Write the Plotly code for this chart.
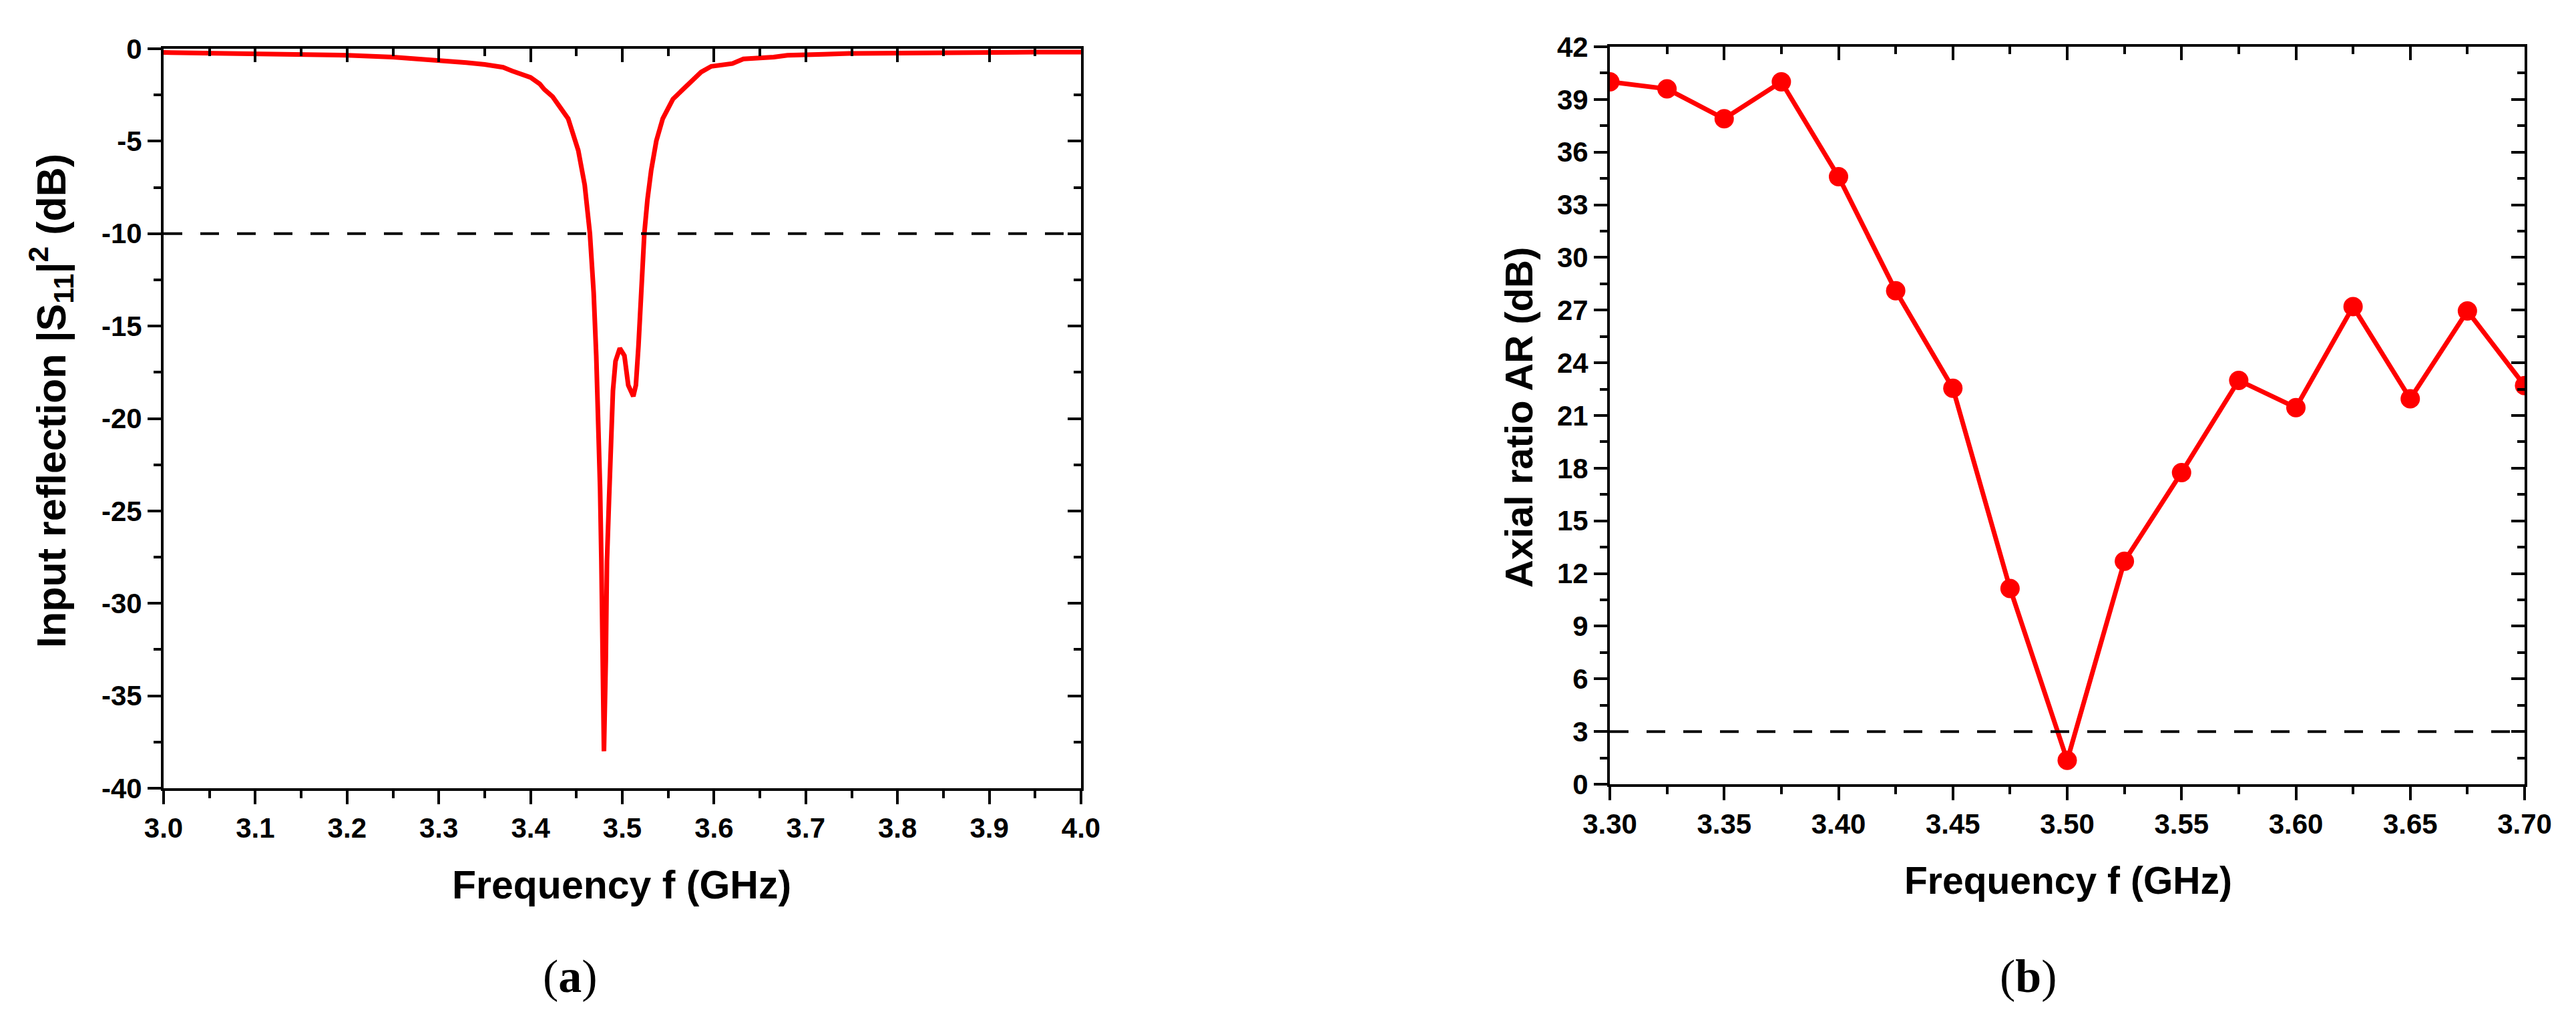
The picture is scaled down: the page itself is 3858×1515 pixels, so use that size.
import plotly.graph_objects as go

# ---------------- data ----------------
S11_FREQ = [3.000, 3.100, 3.200, 3.250, 3.300, 3.330, 3.350, 3.370, 3.380, 3.390,
            3.400, 3.410, 3.415, 3.424, 3.441, 3.452, 3.459, 3.4647, 3.4688, 3.4716,
            3.4744, 3.4758, 3.4772, 3.4786, 3.480, 3.482, 3.4833, 3.4856, 3.4878, 3.4898,
            3.4926, 3.4973, 3.5023, 3.5065, 3.512, 3.5148, 3.5176, 3.5204, 3.524, 3.5274,
            3.5315, 3.5371, 3.5441, 3.5552, 3.5691, 3.5859, 3.597, 3.609, 3.620, 3.632,
            3.650, 3.665, 3.680, 3.700, 3.720, 3.750, 3.800, 3.850, 3.900, 3.950, 4.000]
S11_DB = [-0.20, -0.25, -0.35, -0.45, -0.60, -0.75, -0.85, -1.00, -1.20, -1.40,
          -1.55, -1.90, -2.20, -2.59, -3.78, -5.50, -7.36, -10.0, -13.2, -16.6,
          -20.6, -23.8, -27.7, -33.1, -38.0, -33.1, -27.7, -24.3, -20.9, -18.5,
          -16.9, -16.2, -16.6, -18.2, -18.8, -18.2, -16.1, -13.2, -10.0, -8.16,
          -6.57, -4.98, -3.78, -2.72, -2.06, -1.26, -0.95, -0.85, -0.80, -0.55,
          -0.50, -0.45, -0.35, -0.30, -0.30, -0.25, -0.22, -0.20, -0.20, -0.18, -0.18]
S11_THRESHOLD = -10

S11_XTICKS = [3.0, 3.1, 3.2, 3.3, 3.4, 3.5, 3.6, 3.7, 3.8, 3.9, 4.0]
S11_XTICKTEXT = ["3.0", "3.1", "3.2", "3.3", "3.4", "3.5", "3.6", "3.7", "3.8", "3.9", "4.0"]
S11_XMINOR = [3.05, 3.15, 3.25, 3.35, 3.45, 3.55, 3.65, 3.75, 3.85, 3.95]
S11_YTICKS = [0, -5, -10, -15, -20, -25, -30, -35, -40]
S11_YTICKTEXT = ["0", "-5", "-10", "-15", "-20", "-25", "-30", "-35", "-40"]
S11_YMINOR = [-2.5, -7.5, -12.5, -17.5, -22.5, -27.5, -32.5, -37.5]

AR_FREQ = [3.300, 3.325, 3.350, 3.375, 3.400, 3.425, 3.450, 3.475, 3.500,
           3.525, 3.550, 3.575, 3.600, 3.625, 3.650, 3.675, 3.700]
AR_DB = [40.0, 39.6, 37.9, 40.0, 34.6, 28.1, 22.55, 11.15, 1.36,
         12.7, 17.75, 23.0, 21.45, 27.2, 21.95, 26.95, 22.7]
AR_THRESHOLD = 3

AR_XTICKS = [3.30, 3.35, 3.40, 3.45, 3.50, 3.55, 3.60, 3.65, 3.70]
AR_XTICKTEXT = ["3.30", "3.35", "3.40", "3.45", "3.50", "3.55", "3.60", "3.65", "3.70"]
AR_XMINOR = [3.325, 3.375, 3.425, 3.475, 3.525, 3.575, 3.625, 3.675]
AR_YTICKS = [0, 3, 6, 9, 12, 15, 18, 21, 24, 27, 30, 33, 36, 39, 42]
AR_YTICKTEXT = [str(v) for v in AR_YTICKS]
AR_YMINOR = [1.5, 4.5, 7.5, 10.5, 13.5, 16.5, 19.5, 22.5, 25.5, 28.5, 31.5, 34.5, 37.5, 40.5]

# ---------------- styling ----------------
W, H = 3858, 1515
FONT = "Liberation Sans, Arial, sans-serif"
RED = "#ff0000"
TICKFONT = dict(family=FONT, size=42, color="black", weight="bold")

L_X = [237 / W, 1611 / W]
L_Y = [(H - 1172) / H, (H - 65) / H]
R_X = [2403 / W, 3773 / W]
R_Y = [(H - 1166) / H, (H - 62) / H]

fig = go.Figure()

# left: S11 curve
fig.add_trace(go.Scatter(x=S11_FREQ, y=S11_DB, mode="lines",
                         line=dict(color=RED, width=7), xaxis="x", yaxis="y",
                         showlegend=False))
# left threshold (on overlay axes)
fig.add_trace(go.Scatter(x=[S11_XTICKS[0], S11_XTICKS[-1]], y=[S11_THRESHOLD] * 2,
                         mode="lines", line=dict(color="black", width=4, dash="28px,27px"),
                         xaxis="x3", yaxis="y3", showlegend=False))
# right: AR
fig.add_trace(go.Scatter(x=AR_FREQ, y=AR_DB, mode="lines+markers",
                         line=dict(color=RED, width=7),
                         marker=dict(color=RED, size=29, line=dict(width=0)),
                         xaxis="x2", yaxis="y2", showlegend=False))
fig.add_trace(go.Scatter(x=[AR_XTICKS[0], AR_XTICKS[-1]], y=[AR_THRESHOLD] * 2,
                         mode="lines", line=dict(color="black", width=4, dash="28px,27px"),
                         xaxis="x4", yaxis="y4", showlegend=False))


def main_axis(domain, anchor, rng, tv, tt, mv):
    return dict(domain=domain, anchor=anchor, range=rng, tickmode="array",
                tickvals=tv, ticktext=tt, ticks="outside", ticklen=20, tickwidth=4,
                tickcolor="black", showline=True, linewidth=4, linecolor="black",
                showgrid=False, zeroline=False, tickfont=TICKFONT, automargin=False,
                minor=dict(tickmode="array", tickvals=mv, ticks="outside",
                           ticklen=11, tickwidth=4, tickcolor="black", showgrid=False))


def mirror_axis(overlay, anchor, side, rng, tv, mv):
    return dict(overlaying=overlay, anchor=anchor, side=side, range=rng,
                tickmode="array", tickvals=tv, ticks="inside", ticklen=20, tickwidth=4,
                tickcolor="black", showline=True, linewidth=4, linecolor="black",
                showgrid=False, zeroline=False, showticklabels=False, automargin=False,
                minor=dict(tickmode="array", tickvals=mv, ticks="inside",
                           ticklen=11, tickwidth=4, tickcolor="black", showgrid=False))


s11_xr = [S11_XTICKS[0], S11_XTICKS[-1]]
s11_yr = [S11_YTICKS[-1], S11_YTICKS[0]]
ar_xr = [AR_XTICKS[0], AR_XTICKS[-1]]
ar_yr = [AR_YTICKS[0], AR_YTICKS[-1]]

fig.update_layout(
    template="none",
    width=W, height=H, autosize=False, margin=dict(l=0, r=0, t=0, b=0, pad=0),
    paper_bgcolor="white", plot_bgcolor="rgba(0,0,0,0)", showlegend=False,
    xaxis=main_axis(L_X, "y", s11_xr, S11_XTICKS, S11_XTICKTEXT, S11_XMINOR),
    yaxis=main_axis(L_Y, "x", s11_yr, S11_YTICKS, S11_YTICKTEXT, S11_YMINOR),
    xaxis3=mirror_axis("x", "y3", "top", s11_xr, S11_XTICKS, S11_XMINOR),
    yaxis3=mirror_axis("y", "x3", "right", s11_yr, S11_YTICKS, S11_YMINOR),
    xaxis2=main_axis(R_X, "y2", ar_xr, AR_XTICKS, AR_XTICKTEXT, AR_XMINOR),
    yaxis2=main_axis(R_Y, "x2", ar_yr, AR_YTICKS, AR_YTICKTEXT, AR_YMINOR),
    xaxis4=mirror_axis("x2", "y4", "top", ar_xr, AR_XTICKS, AR_XMINOR),
    yaxis4=mirror_axis("y2", "x4", "right", ar_yr, AR_YTICKS, AR_YMINOR),
)


def tfont(size):
    return dict(family=FONT, size=size, color="black", weight="bold")


CAPFONT = dict(family="Liberation Serif, Times New Roman, serif", size=70, color="black")

annots = [
    dict(text="Frequency f (GHz)", x=923 / W, y=(H - 1317) / H, font=tfont(59)),
    dict(text="Frequency f (GHz)", x=3089 / W, y=(H - 1310) / H, font=tfont(57)),
    dict(text="Input reflection |S<sub>11</sub>|<sup>2</sup> (dB)", x=68 / W,
         y=(H - 592) / H, font=tfont(61), textangle=-90),
    dict(text="Axial ratio AR (dB)", x=2267 / W, y=(H - 617) / H, font=tfont(58),
         textangle=-90),
    dict(text="(<b>a</b>)", x=846 / W, y=(H - 1453) / H, font=CAPFONT),
    dict(text="(<b>b</b>)", x=3030 / W, y=(H - 1453) / H, font=CAPFONT),
]
for a in annots:
    a.update(xref="paper", yref="paper", xanchor="center", yanchor="middle",
             showarrow=False)
    fig.add_annotation(**a)

fig.write_html("out.html")
